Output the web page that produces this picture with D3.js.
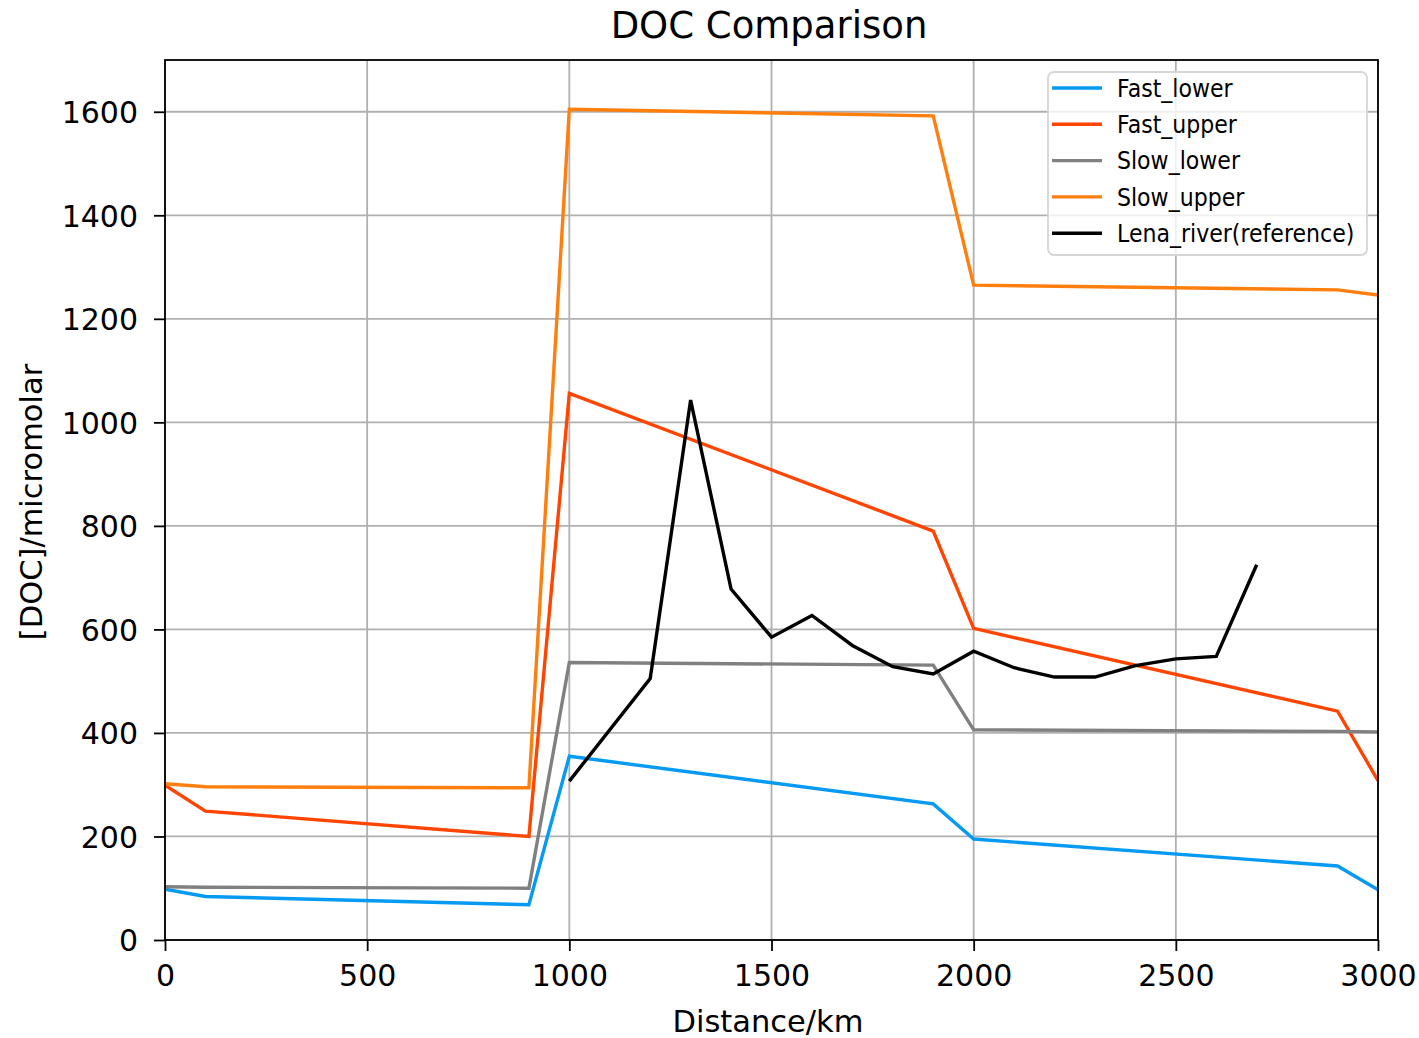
<!DOCTYPE html>
<html>
<head>
<meta charset="utf-8">
<script src="https://cdnjs.cloudflare.com/ajax/libs/d3/7.8.5/d3.min.js"></script>
<style>
  body { margin: 0; background: #fff; }
  text { font-family: "DejaVu Sans", sans-serif; fill: #000; }
</style>
</head>
<body>
<svg id="chart" width="1419" height="1038"></svg>
<script>
// model runs, sampled at the same distances
var distance = [0, 100, 900, 1000, 1900, 2000, 2900, 3000]
var fastLower = [98, 84, 68, 355, 263, 195, 143, 97]
var fastUpper = [299, 249, 200, 1056, 790, 602, 442, 308]
var slowLower = [103, 102, 100, 536, 531, 406, 403, 402]
var slowUpper = [302, 296, 294, 1605, 1592, 1265, 1256, 1246]

// observed values along the river
var lenaDistance = [1000, 1200, 1300, 1400, 1500, 1600, 1700, 1800, 1900, 2000, 2100, 2200, 2300, 2400, 2500, 2600, 2700]
var lenaDoc = [307, 505, 1043, 678, 585, 627, 569, 528, 514, 558, 526, 508, 508, 530, 543, 548, 725]

var seriesNames = ["Fast_lower", "Fast_upper", "Slow_lower", "Slow_upper", "Lena_river(reference)"]
var seriesColors = ["#069af3", "#ff4500", "#808080", "#ff7f0e", "#000000"]

var xTicks = [0, 500, 1000, 1500, 2000, 2500, 3000]
var yTicks = [0, 200, 400, 600, 800, 1000, 1200, 1400, 1600]

document.addEventListener('DOMContentLoaded', function () {
    drawChart()
})

function drawChart() {
    const svg = d3.select("#chart")
    const left = 165, right = 1378, top = 60, bottom = 940

    let x = d3.scaleLinear().domain([0, 3000]).range([left, right])
    let y = d3.scaleLinear().domain([0, 1700]).range([bottom, top])

    // grid
    svg.append("g")
        .selectAll("line")
        .data(xTicks)
        .join("line")
        .attr("x1", d => x(d)).attr("x2", d => x(d))
        .attr("y1", top).attr("y2", bottom)
        .style("stroke", "#b0b0b0").style("stroke-width", 1.8)
    svg.append("g")
        .selectAll("line")
        .data(yTicks)
        .join("line")
        .attr("x1", left).attr("x2", right)
        .attr("y1", d => y(d)).attr("y2", d => y(d))
        .style("stroke", "#b0b0b0").style("stroke-width", 1.8)

    svg.append("clipPath").attr("id", "plotClip")
        .append("rect")
        .attr("x", left).attr("y", top)
        .attr("width", right - left).attr("height", bottom - top)

    let series = [
        distance.map((d, i) => [d, fastLower[i]]),
        distance.map((d, i) => [d, fastUpper[i]]),
        distance.map((d, i) => [d, slowLower[i]]),
        distance.map((d, i) => [d, slowUpper[i]]),
        lenaDistance.map((d, i) => [d, lenaDoc[i]])
    ]

    let line = d3.line().x(d => x(d[0])).y(d => y(d[1]))

    svg.append("g")
        .attr("clip-path", "url(#plotClip)")
        .selectAll("path")
        .data(series)
        .join("path")
        .attr("d", line)
        .style("fill", "none")
        .style("stroke", (d, i) => seriesColors[i])
        .style("stroke-width", 3.4)
        .style("stroke-linejoin", "miter")

    // axes
    let xAxis = svg.append("g")
        .attr("transform", `translate(0,${bottom})`)
        .call(d3.axisBottom(x).tickValues(xTicks).tickSize(11).tickPadding(12).tickFormat(d3.format("d")))
    let yAxis = svg.append("g")
        .attr("transform", `translate(${left},0)`)
        .call(d3.axisLeft(y).tickValues(yTicks).tickSize(11).tickPadding(16).tickFormat(d3.format("d")))

    for (let ax of [xAxis, yAxis]) {
        ax.select(".domain").remove()
        ax.selectAll(".tick line").style("stroke", "#000").style("stroke-width", 1.8)
        ax.selectAll(".tick text").style("font-size", "30px").style("fill", "#000")
            .attr("font-family", null)
    }
    xAxis.selectAll(".tick text").attr("dy", "0.78em")
    yAxis.selectAll(".tick text").attr("dy", "0.36em")

    svg.append("rect")
        .attr("x", left).attr("y", top)
        .attr("width", right - left).attr("height", bottom - top)
        .style("fill", "none").style("stroke", "#000").style("stroke-width", 1.8)

    // labels
    svg.append("text")
        .text("DOC Comparison")
        .attr("x", 769).attr("y", 38)
        .attr("text-anchor", "middle")
        .style("font-size", "37px")

    svg.append("text")
        .text("Distance/km")
        .attr("x", 768).attr("y", 1032)
        .attr("text-anchor", "middle")
        .style("font-size", "30.5px")

    svg.append("text")
        .text("[DOC]/micromolar")
        .attr("transform", `translate(42,${(top + bottom) / 2 + 2}) rotate(-90)`)
        .attr("text-anchor", "middle")
        .style("font-size", "30.5px")

    // legend
    let legend = svg.append("g")
    legend.append("rect")
        .attr("x", 1048).attr("y", 72)
        .attr("width", 319).attr("height", 183)
        .attr("rx", 6)
        .style("fill", "#fff").style("fill-opacity", 0.8)
        .style("stroke", "#d6d6d6").style("stroke-width", 1.8)

    let rows = legend.selectAll("g.row")
        .data(seriesNames)
        .join("g")
        .attr("class", "row")
        .attr("transform", (d, i) => `translate(0,${88 + i * 36.3})`)
    rows.append("line")
        .attr("x1", 1052).attr("x2", 1102)
        .style("stroke", (d, i) => seriesColors[i])
        .style("stroke-width", 3.4)
    rows.append("text")
        .text(d => d)
        .attr("x", 1117).attr("dy", "0.36em")
        .style("font-size", "24.5px")
        .each(function () {
            let w = this.getComputedTextLength()
            d3.select(this).attr("textLength", w * 0.9).attr("lengthAdjust", "spacingAndGlyphs")
        })
}
</script>
</body>
</html>
